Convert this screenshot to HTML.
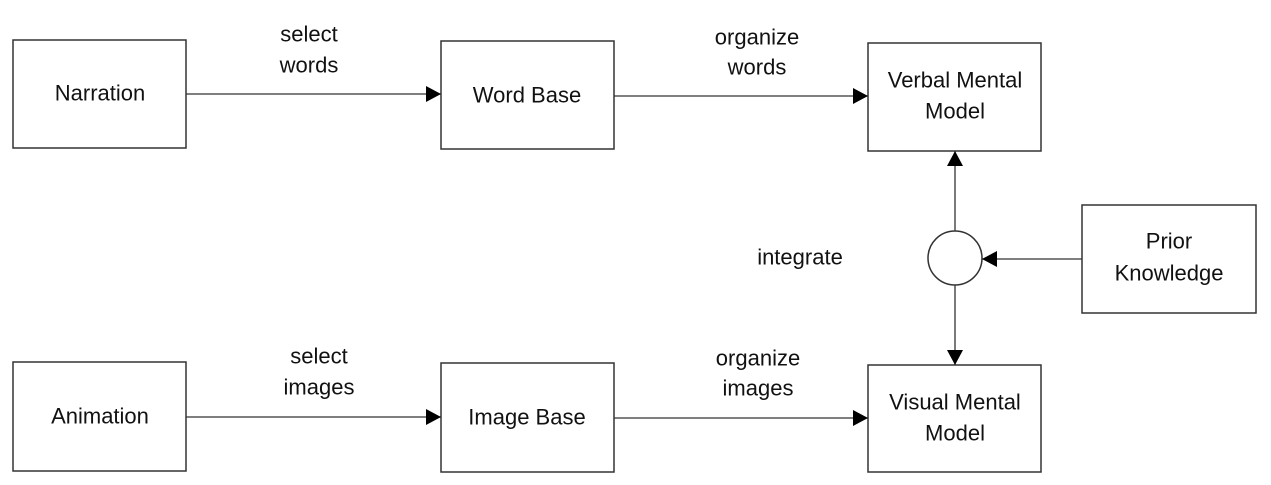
<!DOCTYPE html>
<html><head><meta charset="utf-8"><style>
html,body{margin:0;padding:0;background:#fff;}
svg{display:block;}
text{font-family:"Liberation Sans",Arial,sans-serif;font-size:22px;fill:#111;text-anchor:middle;dominant-baseline:central;}
</style></head><body>
<svg width="1271" height="485" viewBox="0 0 1271 485" xmlns="http://www.w3.org/2000/svg">
<defs><marker id="a" markerWidth="15" markerHeight="16" refX="15" refY="8" orient="auto" markerUnits="userSpaceOnUse"><path d="M0,0 L15,8 L0,16 Z" fill="#000"/></marker></defs>
<g fill="#fff" stroke="#333" stroke-width="1.5">
<rect x="13" y="40" width="173" height="108"/>
<rect x="441" y="41" width="173" height="108"/>
<rect x="868" y="43" width="173" height="108"/>
<rect x="1082" y="205" width="174" height="108"/>
<rect x="13" y="362" width="173" height="109"/>
<rect x="441" y="363" width="173" height="109"/>
<rect x="868" y="365" width="173" height="107"/>
<circle cx="955" cy="258" r="27"/>
</g>
<g stroke="#333" stroke-width="1.3" fill="none">
<line x1="186" y1="94" x2="441" y2="94" marker-end="url(#a)"/>
<line x1="614" y1="96" x2="868" y2="96" marker-end="url(#a)"/>
<line x1="186" y1="417" x2="441" y2="417" marker-end="url(#a)"/>
<line x1="614" y1="418" x2="868" y2="418" marker-end="url(#a)"/>
<line x1="955" y1="231" x2="955" y2="151" marker-end="url(#a)"/>
<line x1="955" y1="285" x2="955" y2="365" marker-end="url(#a)"/>
<line x1="1082" y1="259" x2="982" y2="259" marker-end="url(#a)"/>
</g>
<text x="100" y="93">Narration</text>
<text x="527" y="95">Word Base</text>
<text x="955" y="80">Verbal Mental</text>
<text x="955" y="111">Model</text>
<text x="1169" y="241">Prior</text>
<text x="1169" y="273">Knowledge</text>
<text x="100" y="416">Animation</text>
<text x="527" y="417">Image Base</text>
<text x="955" y="402">Visual Mental</text>
<text x="955" y="433">Model</text>
<text x="309" y="34">select</text>
<text x="309" y="65">words</text>
<text x="757" y="37">organize</text>
<text x="757" y="67">words</text>
<text x="319" y="356">select</text>
<text x="319" y="387">images</text>
<text x="758" y="358">organize</text>
<text x="758" y="388">images</text>
<text x="800" y="257">integrate</text>
</svg>
</body></html>
